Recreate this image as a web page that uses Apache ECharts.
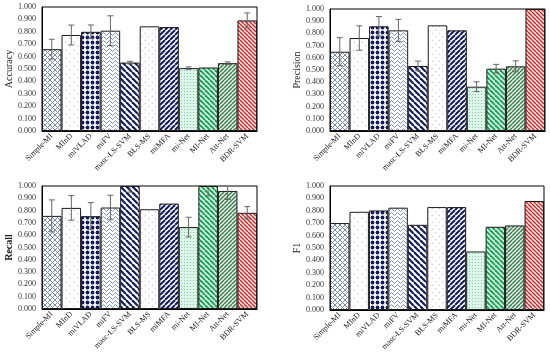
<!DOCTYPE html>
<html><head><meta charset="utf-8">
<script src="https://cdn.jsdelivr.net/npm/echarts@6/dist/echarts.min.js"></script>
<style>html,body{margin:0;padding:0;background:#fff}#c{width:550px;height:358px}</style>
</head><body><div id="c"></div>
<script>
const categories = ['Simple-MI','MInD','miVLAD','miFV','masc-LS-SVM','BLS-MS','miMFA','mi-Net','MI-Net','Att-Net','BDR-SVM'];
const accuracy = [0.660,0.774,0.800,0.809,0.552,0.844,0.838,0.507,0.512,0.547,0.892];
const accuracyErr = [0.080,0.080,0.055,0.120,0.010,0,0,0.010,0,0.010,0.060];
const precision = [0.650,0.762,0.858,0.825,0.533,0.866,0.825,0.363,0.511,0.530,1.000];
const precisionErr = [0.115,0.100,0.080,0.090,0.040,0,0,0.040,0.035,0.045,0];
const recall = [0.757,0.822,0.755,0.825,1.000,0.811,0.857,0.666,1.000,0.960,0.782];
const recallErr = [0.130,0.100,0.110,0.100,0.050,0,0,0.080,0.080,0.070,0.050];
const f1 = [0.701,0.792,0.803,0.825,0.687,0.830,0.830,0.472,0.671,0.682,0.879];
const yTicks = [0,0.1,0.2,0.3,0.4,0.5,0.6,0.7,0.8,0.9,1.0];

function tile(w,h,bg,draw){
  const c=document.createElement('canvas');c.width=w;c.height=h;
  const g=c.getContext('2d');g.fillStyle=bg;g.fillRect(0,0,w,h);draw(g);
  return {image:c,repeat:'repeat'};
}
function stripes(s,lw,fg,bg,dir){
  return tile(s,s,bg,g=>{
    g.strokeStyle=fg;g.lineWidth=lw;
    for(const o of [-s,0,s]){
      g.beginPath();
      if(dir==='\\'){g.moveTo(o,0);g.lineTo(o+s,s);}else{g.moveTo(o,s);g.lineTo(o+s,0);}
      g.stroke();
    }
  });
}
function dots(s,r,fg,bg,offset){
  return tile(s,s,bg,g=>{
    g.fillStyle=fg;
    const pts=offset?[[s/4,s/4],[3*s/4,3*s/4]]:[[s/2,s/2]];
    for(const p of pts){g.beginPath();g.arc(p[0],p[1],r,0,Math.PI*2);g.fill();}
  });
}
const patterns=[
  tile(5,5,'#ffffff',g=>{g.strokeStyle='#7a88b0';g.lineWidth=1;
    for(const o of [-5,0,5]){g.beginPath();g.moveTo(o,0);g.lineTo(o+5,5);g.stroke();g.beginPath();g.moveTo(o,5);g.lineTo(o+5,0);g.stroke();}}),
  dots(8,0.6,'#8a96b0','#ffffff',true),
  dots(5,1.9,'#141a5a','#ffffff',false),
  tile(6,4,'#ffffff',g=>{g.strokeStyle='#7d8cb8';g.lineWidth=1;g.beginPath();g.moveTo(0,2);g.lineTo(1.5,0.5);g.lineTo(4.5,3.5);g.lineTo(6,2);g.stroke();}),
  stripes(6,2.2,'#141a5a','#ffffff','\\'),
  dots(7,0.5,'#8a96b0','#ffffff',true),
  stripes(5,2,'#141a5a','#ffffff','/'),
  dots(3,0.6,'#7cc89c','#ddf6ea',false),
  stripes(5,1.8,'#1f9a55','#c9f2dd','\\'),
  stripes(4,1.4,'#4c7a52','#d4f2e0','/'),
  stripes(4,1.4,'#c23030','#ffdede','\\')
];

const grids=[
  {left:42,top:7,width:215,height:124},
  {left:330,top:9,width:215,height:122},
  {left:42,top:186,width:215,height:123},
  {left:330,top:186,width:214,height:124}
];
const names=['Accuracy','Precision','Recall','F1'];
const values=[accuracy,precision,recall,f1];
const errs=[accuracyErr,precisionErr,recallErr,null];
const font='"Liberation Serif", "Times New Roman", serif';

const option={animation:false,backgroundColor:'#fff',
  grid:grids.map(g=>Object.assign({show:true,borderColor:'#000',borderWidth:1,backgroundColor:'transparent'},g)),
  xAxis:grids.map((g,i)=>({type:'category',gridIndex:i,data:categories,
    axisLine:{lineStyle:{color:'#000'}},axisTick:{show:false},
    axisLabel:{interval:0,rotate:45,fontSize:8,fontFamily:font,color:'#222',margin:4}})),
  yAxis:grids.map((g,i)=>({type:'value',gridIndex:i,min:0,max:1,interval:0.1,
    name:names[i],nameLocation:'middle',nameGap:26,
    nameTextStyle:{fontSize:10,fontFamily:font,color:'#222',fontWeight:i===2?'bold':'normal'},
    axisLine:{show:true,lineStyle:{color:'#000'}},axisTick:{show:false},splitLine:{show:false},
    axisLabel:{fontSize:8,fontFamily:font,color:'#333',margin:6,
      formatter:v=>{const t=yTicks.find(x=>Math.abs(x-v)<1e-6);return (t===undefined?v:t).toFixed(3);}}})),
  series:[]
};
values.forEach((vals,i)=>{
  option.series.push({type:'bar',xAxisIndex:i,yAxisIndex:i,barCategoryGap:'0%',
    data:vals.map((v,k)=>({value:v,itemStyle:{color:patterns[k],borderColor:'#1a1a1a',borderWidth:1}}))});
  if(errs[i]){
    const e=errs[i];
    option.series.push({type:'custom',xAxisIndex:i,yAxisIndex:i,clip:true,z:5,
      data:vals.map((v,k)=>[k,v,e[k]]),
      renderItem:(params,api)=>{
        const k=api.value(0),v=api.value(1),er=api.value(2);
        if(!er) return null;
        const hi=api.coord([k,v+er]),lo=api.coord([k,v-er]);
        const st={stroke:'#666',lineWidth:1};
        return {type:'group',children:[
          {type:'line',shape:{x1:hi[0],y1:hi[1],x2:lo[0],y2:lo[1]},style:st},
          {type:'line',shape:{x1:hi[0]-3,y1:hi[1],x2:hi[0]+3,y2:hi[1]},style:st},
          {type:'line',shape:{x1:lo[0]-3,y1:lo[1],x2:lo[0]+3,y2:lo[1]},style:st}
        ]};
      }});
  }
});
echarts.init(document.getElementById('c'),null,{renderer:'canvas'}).setOption(option);
</script></body></html>
